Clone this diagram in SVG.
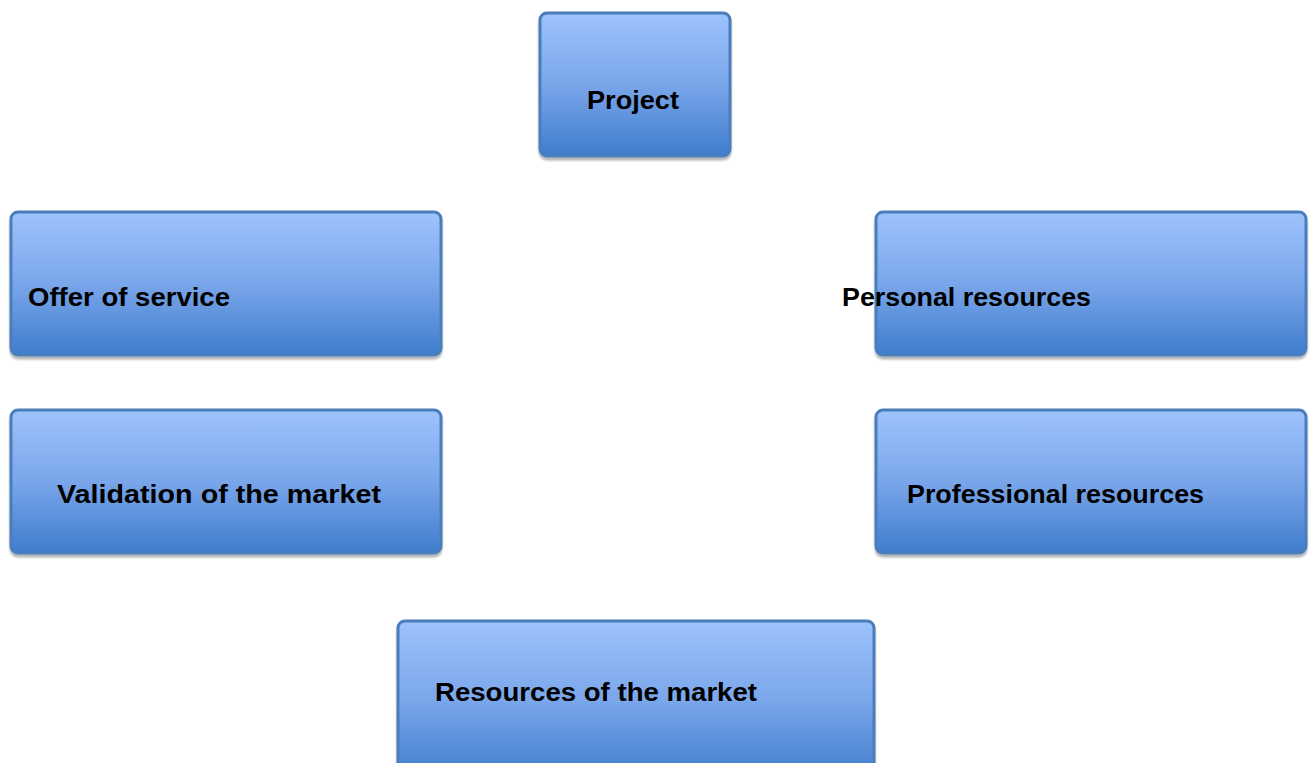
<svg xmlns="http://www.w3.org/2000/svg" width="1312" height="763" viewBox="0 0 1312 763">
  <defs>
    <linearGradient id="boxFill" x1="0" y1="0" x2="0" y2="1">
      <stop offset="0" stop-color="#9dc3fd"/>
      <stop offset="0.5" stop-color="#7aa6ea"/>
      <stop offset="1" stop-color="#3f7dcd"/>
    </linearGradient>
    <filter id="drop" x="-5%" y="-5%" width="110%" height="120%">
      <feGaussianBlur in="SourceAlpha" stdDeviation="1"/>
      <feOffset dx="0" dy="3"/>
      <feComponentTransfer><feFuncA type="linear" slope="0.3"/></feComponentTransfer>
      <feMerge><feMergeNode/><feMergeNode in="SourceGraphic"/></feMerge>
    </filter>
  </defs>
  <style>
    .box { fill: url(#boxFill); stroke: #4a7ebb; stroke-width: 3; filter: url(#drop); }
    .label { font-family: "Liberation Sans", Arial, sans-serif; font-weight: bold; font-size: 26px; fill: #000; }
  </style>
  <rect width="1312" height="763" fill="#ffffff"/>
  <g id="connectors"/>
  <g id="project">
    <rect class="box" x="540" y="13" width="190" height="143" rx="7"/>
    <text class="label" x="587" y="109" textLength="92" lengthAdjust="spacingAndGlyphs">Project</text>
  </g>
  <g id="offer-of-service">
    <rect class="box" x="11" y="212" width="430" height="143" rx="7"/>
    <text class="label" x="28" y="306" textLength="202" lengthAdjust="spacingAndGlyphs">Offer of service</text>
  </g>
  <g id="validation-of-the-market">
    <rect class="box" x="11" y="410" width="430" height="143" rx="7"/>
    <text class="label" x="57" y="503" textLength="324" lengthAdjust="spacingAndGlyphs">Validation of the market</text>
  </g>
  <g id="personal-resources">
    <rect class="box" x="876" y="212" width="430" height="143" rx="7"/>
    <text class="label" x="842" y="306" textLength="249" lengthAdjust="spacingAndGlyphs">Personal resources</text>
  </g>
  <g id="professional-resources">
    <rect class="box" x="876" y="410" width="430" height="143" rx="7"/>
    <text class="label" x="907" y="503" textLength="297" lengthAdjust="spacingAndGlyphs">Professional resources</text>
  </g>
  <g id="resources-of-the-market">
    <rect class="box" x="398" y="621" width="476" height="160" rx="7"/>
    <text class="label" x="435" y="701" textLength="322" lengthAdjust="spacingAndGlyphs">Resources of the market</text>
  </g>
</svg>
